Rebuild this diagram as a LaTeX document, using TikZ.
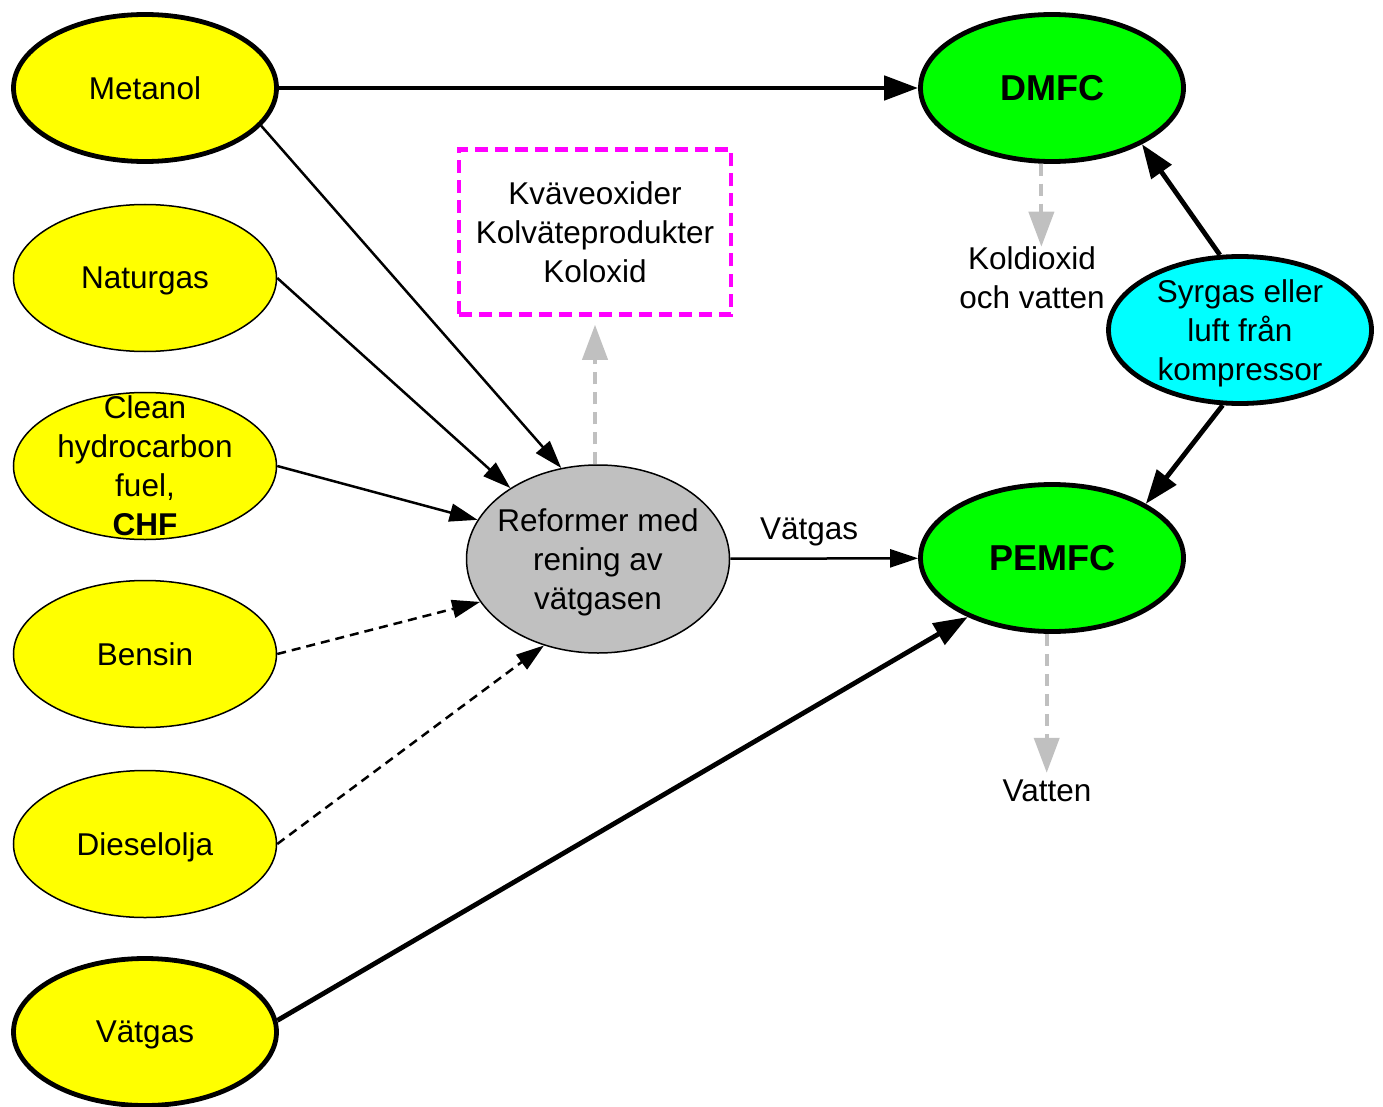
\documentclass[tikz,border=0pt]{standalone}
\usepackage{fontspec}
\setmainfont{Liberation Sans}
\usetikzlibrary{positioning,shapes.geometric,arrows.meta}
\definecolor{fuelcol}{HTML}{FFFF00}
\definecolor{cellcol}{HTML}{00FF00}
\definecolor{aircol}{HTML}{00FFFF}
\definecolor{refcol}{HTML}{C0C0C0}
\definecolor{wastecol}{HTML}{FF00FF}

\begin{document}
\begin{tikzpicture}[x=1pt, y=-1pt,
    every node/.style={font=\fontsize{31.5}{39}\selectfont, align=center},
    every label/.style={text depth=0pt},
    blob/.style={ellipse, draw, inner sep=0pt, minimum width=263pt, minimum height=147pt},
    fuel/.style={blob, fill=fuelcol, line width=1.5pt},
    strong/.style={line width=4.8pt},
    celltext/.style={font=\fontsize{36}{44}\selectfont\bfseries},
    feed/.style={line width=2.5pt, -{Triangle[length=28pt,width=18pt]}},
    mainfeed/.style={line width=4.8pt, -{Triangle[length=34pt,width=24pt]}},
    optfeed/.style={feed, dash pattern=on 9pt off 6pt},
    exhaust/.style={draw=refcol, line width=4pt, dash pattern=on 12pt off 8pt, -{Triangle[length=35pt,width=25pt]}}]
  \useasboundingbox (0,0) rectangle (1383,1107);
  % fuels
  \node[fuel, strong, label=center:Metanol] (metanol) at (145,88) {};
  \node[fuel, label=center:Naturgas] (naturgas) at (145,278) {};
  \node[fuel, label=center:{Clean\\hydrocarbon\\fuel,\\\textbf{CHF}}] (chf) at (145,466) {};
  \node[fuel, label=center:Bensin] (bensin) at (145,654) {};
  \node[fuel, label=center:Dieselolja] (diesel) at (145,844) {};
  \node[fuel, strong, label=center:Vätgas] (vatgas) at (145,1032) {};
  % reformer, cells and air
  \node[blob, fill=refcol, line width=1.5pt, minimum height=188pt,
        label=center:{Reformer med\\rening av\\vätgasen}] (reformer) at (598,559) {};
  \node[blob, strong, fill=cellcol, label={[celltext]center:DMFC}] (dmfc) at (1052,88) {};
  \node[blob, strong, fill=cellcol, label={[celltext]center:PEMFC}] (pemfc) at (1052,558) {};
  \node[blob, strong, fill=aircol, label=center:{Syrgas eller\\luft från\\kompressor}] (air) at (1240,330) {};
  \node[draw=wastecol, line width=4.5pt, dash pattern=on 13pt off 7pt, inner sep=0pt,
        minimum width=272pt, minimum height=165pt] (waste) at (595,232) {Kväveoxider\\Kolväteprodukter\\Koloxid};
  % products
  \node[inner sep=0pt] (co2) at (1032,278) {Koldioxid\\och vatten};
  \node[inner sep=0pt] (water) at (1047,791) {Vatten};
  % connectors
  \draw[mainfeed] (metanol) -- (dmfc);
  \draw[feed] (metanol.-18) -- (reformer.112);
  \draw[feed] (naturgas.east) -- (reformer.141);
  \draw[feed] (chf.east) -- (reformer.162);
  \draw[optfeed] (bensin.east) -- (reformer.200);
  \draw[optfeed] (diesel.east) -- (reformer.238);
  \draw[feed] (reformer) -- node[above=8pt, pos=0.42] (h2label) {Vätgas} (pemfc);
  \draw[mainfeed] (vatgas.5) -- (pemfc.215);
  \draw[mainfeed] (air.105) -- (dmfc.-32);
  \draw[mainfeed] (air.257) -- (pemfc.30);
  \draw[exhaust, shorten >=8pt] (waste.south |- reformer.north) -- (waste.south);
  \draw[exhaust] (dmfc.262) -- (dmfc.262 |- co2.north);
  \draw[exhaust, shorten >=7pt] (pemfc.266) -- (pemfc.266 |- water.north);
\end{tikzpicture}
\end{document}
